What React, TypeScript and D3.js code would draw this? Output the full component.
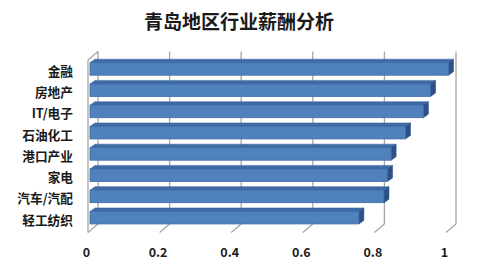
import React from "react";
import * as d3 from "d3";

const categories = ["金融", "房地产", "IT/电子", "石油化工", "港口产业", "家电", "汽车/汽配", "轻工纺织"];
const values = [1.0, 0.95, 0.93, 0.88, 0.84, 0.83, 0.82, 0.75];
const ticks = [0, 0.2, 0.4, 0.6, 0.8, 1];
const title = "青岛地区行业薪酬分析";

const W = 481;
const H = 274;
const FONT = "'Noto Sans CJK SC', 'Noto Sans', sans-serif";

export default function App() {
  const xFront = d3.scaleLinear().domain([0, 1]).range([88, 446]);
  const backDx = 10;
  const backDy = -8.5;
  const floorFrontY = 232.5;
  const wallTopFrontY = 60;
  const xBar = d3.scaleLinear().domain([0, 1]).range([90, 448.5]);
  const y = d3
    .scaleBand<string>()
    .domain(categories)
    .range([58.3, 228.3])
    .paddingInner(0.41)
    .paddingOuter(0.205);
  const bw = y.bandwidth();
  const ddx = 5;
  const ddy = -3.5;
  const grid = "#a6a6a6";

  return (
    <svg width={W} height={H} style={{ position: "absolute", left: 0, top: 0, background: "#fff" }}>
      <text x={239} y={29} textAnchor="middle" fontFamily={FONT} fontWeight="bold" fontSize={19} fill="#1a1a1a">
        {title}
      </text>
      {/* left wall */}
      <line x1={xFront(0)} y1={wallTopFrontY} x2={xFront(0)} y2={floorFrontY} stroke={grid} strokeWidth={1.3} />
      <line x1={xFront(0)} y1={wallTopFrontY} x2={xFront(0) + backDx} y2={wallTopFrontY + backDy} stroke={grid} strokeWidth={1.3} />
      {/* back wall gridlines + floor diagonals */}
      {ticks.map((t) => (
        <g key={t}>
          <line
            x1={xFront(t) + backDx}
            y1={wallTopFrontY + backDy}
            x2={xFront(t) + backDx}
            y2={floorFrontY + backDy}
            stroke={grid}
            strokeWidth={1.3}
          />
          <line
            x1={xFront(t) + backDx}
            y1={floorFrontY + backDy}
            x2={xFront(t)}
            y2={floorFrontY}
            stroke={grid}
            strokeWidth={1.3}
          />
          <text
            x={xFront(t) - 1.5}
            y={257}
            textAnchor="middle"
            fontFamily={FONT}
            fontWeight="bold"
            fontSize={12.5}
            fill="#1a1a1a"
          >
            {String(t)}
          </text>
        </g>
      ))}
      {/* bars */}
      {categories.map((c, i) => {
        const y0 = y(c) as number;
        const x0 = xBar(0);
        const x1 = xBar(values[i]);
        const top = `${x0},${y0} ${x0 + ddx},${y0 + ddy} ${x1 + ddx},${y0 + ddy} ${x1},${y0}`;
        const end = `${x1},${y0} ${x1 + ddx},${y0 + ddy} ${x1 + ddx},${y0 + bw + ddy} ${x1},${y0 + bw}`;
        return (
          <g key={c}>
            <polygon points={top} fill="#3E6AA5" stroke="#3A639A" strokeWidth={0.5} />
            <polygon points={end} fill="#2D5186" stroke="#2B4D7F" strokeWidth={0.5} />
            <rect x={x0} y={y0} width={x1 - x0} height={bw} fill="#4F81BD" stroke="#3F6CA6" strokeWidth={0.8} />
            <text
              x={73}
              y={y0 + bw / 2 + 3.5}
              textAnchor="end"
              dominantBaseline="middle"
              fontFamily={FONT}
              fontWeight="bold"
              fontSize={12.7}
              fill="#1a1a1a"
            >
              {c}
            </text>
          </g>
        );
      })}
    </svg>
  );
}
